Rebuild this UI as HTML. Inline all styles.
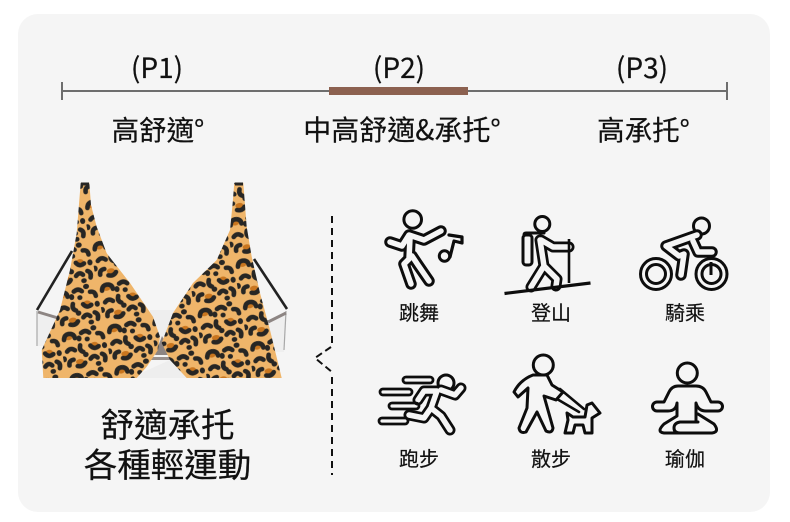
<!DOCTYPE html>
<html><head><meta charset="utf-8">
<style>
html,body{margin:0;padding:0;background:#fff;width:790px;height:522px;overflow:hidden}
svg{display:block}
text{font-family:"Noto Sans CJK TC","Liberation Sans",sans-serif;fill:#111;stroke:#111;stroke-width:.2;text-anchor:middle}
.o{fill:none;stroke:#0d0d0d;stroke-linecap:round;stroke-linejoin:round}
.i{fill:none;stroke:#f5f5f5;stroke-linecap:round;stroke-linejoin:round}
.c{fill:none;stroke:#0d0d0d;stroke-width:3}
</style></head>
<body>
<svg width="790" height="522" viewBox="0 0 790 522" xmlns="http://www.w3.org/2000/svg">
<defs>
<pattern id="leo" width="46" height="42" patternUnits="userSpaceOnUse" patternTransform="rotate(-10)">
<rect width="46" height="42" fill="#efb56a"/>
<g fill="#c9761f">
<ellipse cx="9" cy="8" rx="4" ry="3"/><ellipse cx="33" cy="20" rx="4" ry="3"/><ellipse cx="16" cy="34" rx="4" ry="2.6"/>
</g>
<g fill="none" stroke="#272624" stroke-width="4.6" stroke-linecap="round">
<path d="M4 10q1-6 7-5 4 1 4 5"/><path d="M22 6q5-3 8 1"/><path d="M38 9q5 0 5 5"/>
<path d="M5 22q4-4 8 0"/><path d="M19 18q-2 5 2 7"/><path d="M29 20q3 5 8 2"/>
<path d="M5 36q0-5 5-5"/><path d="M13 38q5 2 8-2"/><path d="M27 33q4-4 7 0"/><path d="M39 30q4 2 2 7"/>
</g>
<g fill="#272624">
<ellipse cx="19" cy="11" rx="2.6" ry="3"/><ellipse cx="35" cy="3" rx="3" ry="2.6"/>
<ellipse cx="27" cy="13" rx="2.6" ry="2.4"/><ellipse cx="43" cy="22" rx="2.6" ry="3"/>
<ellipse cx="1" cy="29" rx="2.6" ry="3"/><ellipse cx="23" cy="28" rx="2.8" ry="2.6"/>
<ellipse cx="34" cy="39" rx="2.8" ry="2.4"/>
</g>
</pattern>
</defs>

<rect x="18" y="14" width="752" height="498" rx="20" fill="#f5f5f5"/>

<!-- scale -->
<rect x="62" y="90" width="665" height="2" fill="#6e6e6e"/>
<rect x="61" y="82" width="2" height="18" fill="#6e6e6e"/>
<rect x="726" y="82" width="2" height="18" fill="#6e6e6e"/>
<rect x="329" y="87" width="139" height="8" fill="#8c6150"/>

<text x="157" y="78" font-size="28">(P1)</text>
<text x="399" y="78" font-size="28">(P2)</text>
<text x="642" y="78" font-size="28">(P3)</text>
<text x="158" y="140" font-size="27.5">高舒適°</text>
<text x="402" y="140" font-size="28">中高舒適&amp;承托°</text>
<text x="643.5" y="140" font-size="27.5">高承托°</text>

<!-- garment -->
<g>
<path d="M37 310L72 251" fill="none" stroke="#222" stroke-width="2.6"/>
<path d="M287 309L254 259" fill="none" stroke="#222" stroke-width="2.6"/>
<path d="M37 311L38 346L50 346L60 316Z" fill="#efefef"/>
<path d="M37 311V346" stroke="#a8a8a8" stroke-width="1.2"/>
<path d="M287 311L284 352H272L264 325Z" fill="#efefef"/>
<path d="M286 311L284 350" stroke="#a8a8a8" stroke-width="1.2"/>
<path d="M38 312L58 318" stroke="#8d8583" stroke-width="3" fill="none"/>
<path d="M286 313L268 322" stroke="#8d8583" stroke-width="3" fill="none"/>
<path d="M150 310H176V345H150Z" fill="#eeeeee"/>
<path d="M130 378L170 360L190 378Z" fill="#eeeeee"/>
<path d="M155 355L162 336L172 355Z" fill="#8d8583"/>
<path d="M150 357H178V360H150Z" fill="#9a918e"/>
<path d="M80.7 182.7H89.3L91 205L96.7 226.7L106.7 253.3L130 283L153 316.7L160 336.7L158 350L146.7 366.7L136.7 378H43.3L41.7 350L60 310L70 270L76.7 233Z" fill="url(#leo)"/>
<path d="M234.3 182.7H243.3L245 205L246.7 226.7L251.7 256.7L260 293L270 330L281.7 378H186.7L170 360L161.7 343L173 313L193 283L216.7 260L230 230L232.5 205Z" fill="url(#leo)"/>
<rect x="81" y="182.5" width="8" height="3" fill="#272624"/>
<rect x="235" y="182.5" width="8" height="3" fill="#272624"/>
</g>

<text x="167.5" y="437" font-size="33.5">舒適承托</text>
<text x="167.5" y="477" font-size="33.5">各種輕運動</text>

<!-- dashed divider -->
<path d="M332 216V344" stroke="#111" stroke-width="2" stroke-dasharray="7 5" fill="none"/>
<path d="M331 347L315 358L332 372" stroke="#111" stroke-width="2" stroke-dasharray="7 4" fill="none"/>
<path d="M332 377V475" stroke="#111" stroke-width="2" stroke-dasharray="7 5" fill="none"/>

<!-- dance -->
<circle cx="412.7" cy="219.5" r="8.8" class="c"/>
<path class="o" stroke-width="11.5" d="M390 242L402 246L409 235L424 240L441 231M410 238L409 259L404 264L411 284M412 256L418 265L429 281"/>
<path class="i" stroke-width="5.5" d="M390 242L402 246L409 235L424 240L441 231M410 238L409 259L404 264L411 284M412 256L418 265L429 281"/>
<path class="o" stroke-width="3.2" d="M449 235L462 237V243L454 241L450 257"/>
<circle cx="444.5" cy="256" r="5.2" class="c"/>

<!-- hiker -->
<circle cx="542.3" cy="224" r="7.5" class="c"/>
<rect x="523" y="235" width="9" height="30" rx="3" class="c"/>
<path class="o" stroke-width="3" d="M524 235Q524 233 526 233H544"/>
<path class="o" stroke-width="11" d="M540 240L544 266L531 287M544 266L557 279L556 286M541 240L553 247L569 247"/>
<path class="i" stroke-width="5.5" d="M540 240L544 266L531 287M544 266L557 279L556 286M541 240L553 247L569 247"/>
<path d="M569 239V283" stroke="#0d0d0d" stroke-width="2.6" fill="none"/>
<path d="M504.5 293.5L590.5 283" stroke="#0d0d0d" stroke-width="3.2" fill="none"/>

<!-- cycle -->
<circle cx="656" cy="274" r="15.5" class="c"/>
<circle cx="656" cy="274" r="9.5" class="c"/>
<circle cx="711.5" cy="274" r="15.5" class="c"/>
<circle cx="711.5" cy="274" r="9.5" class="c"/>
<path d="M711 262V275" stroke="#0d0d0d" stroke-width="3" fill="none"/>
<circle cx="701.5" cy="226" r="8" class="c"/>
<path class="o" stroke-width="11.5" d="M697 235L666 246L679 256L684 254L681 275M693 241L698 252L712 252"/>
<path class="i" stroke-width="5.5" d="M697 235L666 246L679 256L684 254L681 275M693 241L698 252L712 252"/>

<text x="419" y="320" font-size="20">跳舞</text>
<text x="551" y="320" font-size="20">登山</text>
<text x="685" y="320" font-size="20">騎乘</text>

<!-- run -->
<circle cx="446" cy="383" r="8" class="c"/>
<path class="o" stroke-width="11" d="M418 400L424 391L437 391L431 408L441 416L450 430M431 408L424 418L409 415M441 390L455 395L461 388"/>
<path class="i" stroke-width="5.5" d="M418 400L424 391L437 391L431 408L441 416L450 430M431 408L424 418L409 415M441 390L455 395L461 388"/>
<g fill="none" stroke="#0d0d0d" stroke-width="2.8">
<rect x="403" y="377" width="30" height="6" rx="3"/>
<rect x="380" y="389" width="32" height="6" rx="3"/>
<rect x="389" y="403" width="30" height="6" rx="3"/>
<rect x="379" y="418" width="29" height="6" rx="3"/>
</g>

<!-- walk -->
<circle cx="543.3" cy="365" r="10" class="c"/>
<path class="o" stroke-width="3" d="M533 375Q520 380 514 392L518 397L528 388L527 408L519 428Q520 434 526 432L537 412L546 431Q552 434 553 428L544 396L556 400L563 392L552 385L547 375Z"/>
<path class="o" stroke-width="2.6" d="M560 389L584 409M557 399L579 412"/>
<path class="o" stroke-width="3" d="M567 413L573 417H585L587 405L592 403L600 413L592 418V433H585L583 425H575L573 433H565L568 420Z"/>

<!-- yoga -->
<circle cx="687.3" cy="373" r="10" class="c"/>
<path class="o" stroke-width="3" d="M678 386H696Q703 386 706 392L711 402H718A4 4 0 0 1 718 411H706Q698 411 696 403V421M678 386Q672 386 669 392L664 402H657A4 4 0 0 0 657 411H668Q676 411 677 403V416L664 424Q656 432 664 433H712Q720 432 714 424L698 414"/>
<path class="o" stroke-width="3" d="M698 422H680Q674 423 674 428Q674 433 680 433"/>

<text x="419" y="466" font-size="20">跑步</text>
<text x="551" y="466" font-size="20">散步</text>
<text x="685" y="466" font-size="20">瑜伽</text>
</svg>
</body></html>
